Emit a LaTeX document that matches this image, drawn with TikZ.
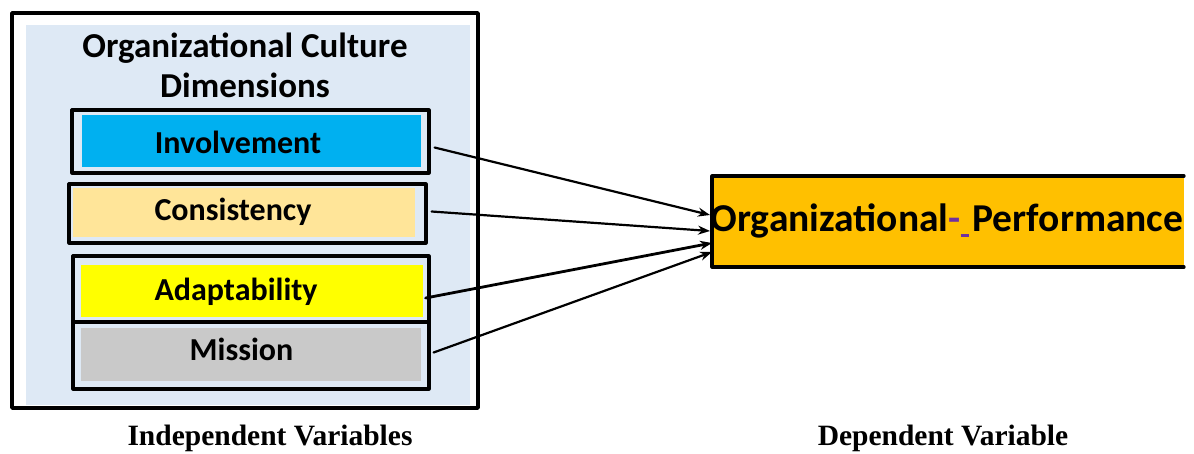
\documentclass[tikz,border=0pt]{standalone}
\usepackage{fontspec}
\setmainfont{Carlito}
\newfontfamily\serifbold{Liberation Serif}
\usepackage{tikz}
\usetikzlibrary{arrows.meta,calc}

\definecolor{panelblue}{HTML}{DEE9F5}
\definecolor{invblue}{HTML}{00B0F0}
\definecolor{consand}{HTML}{FFE599}
\definecolor{adayellow}{HTML}{FFFF00}
\definecolor{misgray}{HTML}{C9C9C9}
\definecolor{perforange}{HTML}{FFC000}
\definecolor{revpurple}{HTML}{7030A0}

\begin{document}
\begin{tikzpicture}[x=1pt, y=-1pt, line cap=round, line join=round,
  dimbox/.style={draw, line width=3.2pt, fill=panelblue, inner sep=0pt},
  dimfill/.style={fill=#1, inner sep=0pt},
  dimtext/.style={inner sep=0pt, font=\fontsize{32}{38}\selectfont\bfseries},
  link/.style={-{Stealth[length=12pt,width=9pt]}, line width=2.2pt}]
\useasboundingbox (0,0) rectangle (1194,453);

% left panel
\fill[panelblue] (26,25) rectangle (470,405);
\draw[line width=3.5pt] (12,13) rectangle (478,408);
\node[align=center, font=\fontsize{35}{40}\selectfont\bfseries] (title) at (245,65)
  {Organizational Culture\\Dimensions};

% dimension boxes
\node[dimbox, minimum width=357pt, minimum height=63pt] (inv) at (250.5,141.5) {};
\node[dimfill=invblue, minimum width=339pt, minimum height=52pt] at (251.5,141) {};
\node[dimtext] (invtxt) at (238,142) {Involvement};
\node[dimbox, minimum width=357pt, minimum height=59pt] (con) at (247.5,213.5) {};
\node[dimfill=consand, minimum width=342pt, minimum height=49pt] at (244,212.5) {};
\node[dimtext] (contxt) at (233,212) {Consistency};
\node[dimbox, minimum width=356pt, minimum height=66pt] (ada) at (251,289) {};
\node[dimfill=adayellow, minimum width=342pt, minimum height=52pt] at (252,291) {};
\node[dimtext] (adatxt) at (236,292) {Adaptability};
\node[dimbox, minimum width=356pt, minimum height=67pt] (mis) at (251,355.5) {};
\node[dimfill=misgray, minimum width=340pt, minimum height=53pt] at (251,354.5) {};
\node[dimtext] (mistxt) at (241.5,349) {Mission};

% dependent variable
\fill[perforange] (712,176) rectangle (1184,267);
\draw[line width=3.2pt] (1184,176) -- (712,176) -- (712,267) -- (1184,267);
\node[font=\fontsize{39.5}{44}\selectfont\bfseries, inner sep=0pt] (perf) at (947,221)
  {Organizational\textcolor{revpurple}{-\rule[-5pt]{8pt}{2.5pt}}\hspace{4pt}Performance};
\coordinate (perfin) at (710,233);

% arrows
\draw[link] ([xshift=4pt,yshift=-6pt]inv.east) -- ([yshift=18pt]perfin);
\draw[link] ([xshift=4pt,yshift=2pt]con.east) -- ([yshift=2pt]perfin);
\draw[link, line width=2.8pt] ([xshift=-5pt,yshift=-9pt]ada.east) -- ([xshift=2pt,yshift=-10pt]perfin);
\draw[link] ([xshift=3pt,yshift=3pt]mis.east) -- ([xshift=2pt,yshift=-19pt]perfin);

% captions
\node[font=\serifbold\fontsize{29.5}{34}\selectfont\bfseries] (indep) at (270,438) {Independent Variables};
\node[font=\serifbold\fontsize{29.5}{34}\selectfont\bfseries] (dep) at (943,438) {Dependent Variable};
\end{tikzpicture}
\end{document}
